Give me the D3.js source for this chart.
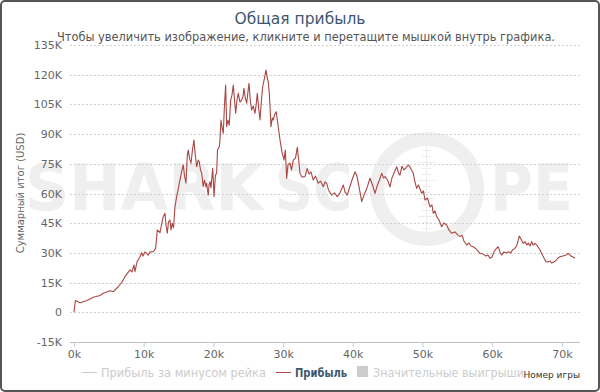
<!DOCTYPE html>
<html><head><meta charset="utf-8">
<script src="https://cdn.jsdelivr.net/npm/d3@7"></script>
<style>body{margin:0;background:#fff}svg{display:block;font-family:"DejaVu Sans",sans-serif}</style>
</head><body>
<svg id="c" width="600" height="392"></svg>
<script>
// Games played (thousands)
const games = [0,0.2,0.86,1.87,2.77,3.73,4.2,5.16,5.64,6.36,6.89,7.32,8.03,8.32,8.61,8.75,9.04,9.47,9.71,9.9,10.19,10.66,10.9,11.38,11.72,11.95,12.34,12.55,12.81,13.06,13.2,13.39,13.56,13.77,13.92,14.1,14.28,14.49,14.73,14.99,15.11,15.45,15.68,15.85,16.07,16.26,16.4,16.57,16.79,17.0,17.22,17.36,17.6,17.83,17.98,18.15,18.32,18.55,18.72,18.94,19.04,19.15,19.27,19.37,19.51,19.66,19.9,19.99,20.09,20.3,20.47,20.59,20.85,20.95,21.09,21.26,21.42,21.56,21.76,21.91,22.09,22.28,22.48,22.67,22.86,23.03,23.2,23.39,23.57,23.82,24.06,24.25,24.39,24.58,24.78,24.96,25.11,25.29,25.49,25.72,25.97,26.15,26.3,26.5,26.69,26.9,27.07,27.33,27.55,27.73,27.88,28.02,28.15,28.26,28.45,28.59,28.77,29.02,29.27,29.56,29.84,30.13,30.32,30.52,30.7,30.99,31.21,31.46,31.78,32.04,32.24,32.42,32.71,33.14,33.47,33.72,34.0,34.33,34.65,35.05,35.37,35.77,36.01,36.26,36.51,36.97,37.37,37.78,38.16,38.64,38.88,39.21,39.53,39.89,40.32,40.6,40.79,41.03,41.28,41.61,42.04,42.47,42.83,43.19,43.54,43.83,44.15,44.4,44.62,44.98,45.34,45.62,45.98,46.3,46.56,46.77,47.06,47.35,47.63,47.96,48.21,48.42,48.68,48.92,49.17,49.43,49.89,50.14,50.36,50.72,51.08,51.36,51.55,51.79,52.04,52.37,52.75,53.08,53.47,53.8,54.19,54.66,55.09,55.38,55.67,55.95,56.34,56.67,56.96,57.29,57.68,57.96,58.25,58.68,59.11,59.4,59.68,59.97,60.26,60.55,60.87,61.12,61.36,61.69,61.98,62.31,62.63,62.91,63.27,63.56,63.89,64.13,64.46,64.71,64.99,65.18,65.42,65.67,65.85,66.14,66.5,66.86,67.14,67.43,67.72,68.0,68.29,68.51,68.77,69.08,69.44,69.73,70.16,70.59,70.92,71.31,71.59,71.88];
// Cumulative profit (thousand USD)
const profit = [0,5.9,4.8,6.0,7.6,8.5,9.6,10.9,10.4,12.9,15.3,18.0,21.4,20.4,23.9,20.5,25.4,28.1,30.1,28.4,30.5,28.9,30.5,30.6,32.3,41.6,40.2,44.1,48.3,50.0,44.1,39.9,45.6,46.6,41.6,44.9,42.6,53.3,58.4,62.8,65.2,71.0,74.4,69.3,65.2,79.4,82.0,77.9,75.3,82.0,87.0,81.0,73.5,76.9,75.9,71.9,70.2,63.4,66.8,63.3,65.2,61.8,59.2,64.3,66.0,62.8,72.7,66.8,58.4,69.3,70.2,82.0,83.6,87.0,97.1,93.1,90.4,102.2,114.8,93.7,97.1,94.6,107.2,109.8,114.8,107.2,100.5,107.2,110.6,106.2,107.2,109.2,113.1,108.2,105.6,111.3,115.7,107.2,102.2,104.2,100.5,105.2,110.6,103.1,97.1,107.2,113.9,118.3,122.4,118.3,116.3,110.6,102.2,93.7,98.1,97.1,99.6,101.3,94.6,87.0,81.0,76.9,82.0,67.7,74.4,75.3,71.9,76.9,77.9,83.3,76.9,70.2,68.3,68.5,72.7,69.8,70.9,66.8,68.8,65.2,66.3,63.4,65.8,65.2,61.8,59.2,60.3,58.4,60.3,64.3,60.8,59.2,62.8,66.8,71.0,68.8,65.2,60.8,55.9,59.2,62.8,67.7,64.3,60.1,64.3,66.8,70.2,67.9,68.5,66.8,63.4,67.9,70.9,73.5,70.3,69.3,73.8,71.9,72.9,74.4,73.4,71.9,70.2,65.8,62.6,64.3,60.1,61.3,56.7,57.7,53.3,54.2,50.0,51.2,48.3,46.6,43.2,45.1,44.1,41.6,39.9,40.6,39.0,38.2,39.0,36.0,34.0,35.0,33.5,33.1,32.0,31.0,29.8,29.4,28.4,28.9,27.3,27.9,30.5,32.0,33.1,30.5,28.9,30.5,29.9,30.6,29.9,31.5,32.3,34.0,38.5,37.0,34.8,35.7,34.0,35.0,33.5,35.7,34.0,34.8,33.5,31.5,29.4,27.4,25.6,25.4,25.9,24.9,25.3,25.9,27.4,28.1,28.4,28.9,29.8,28.4,27.9,27.3];
const yTicks = [-15,0,15,30,45,60,75,90,105,120,135];
const xTicks = [0,10,20,30,40,50,60,70];
const title = "Общая прибыль";
const subtitle = "Чтобы увеличить изображение, кликните и перетащите мышкой внутрь графика.";
const yTitle = "Суммарный итог (USD)";
const xTitle = "Номер игры";
const legendItems = [
  {label:"Прибыль за минусом рейка", type:"line", active:false},
  {label:"Прибыль", type:"line", active:true},
  {label:"Значительные выигрыши", type:"box", active:false}
];

const svg = d3.select("#c");
const L=70, R=580, T=45, B=342;
const x = d3.scaleLinear().domain([-0.57,72.6]).range([L,R]);
const y = d3.scaleLinear().domain([-15,135]).range([B,T]);

// frame
svg.append("rect").attr("x",1).attr("y",1).attr("width",598).attr("height",390)
  .attr("rx",4).attr("fill","#fff").attr("stroke","#555").attr("stroke-width",2);

// watermark
const wmc = "#efefef";
const wm = svg.append("g").attr("fill",wmc);
wm.append("text").attr("x",25).attr("y",210).attr("font-size",64).attr("font-weight","bold")
  .attr("textLength",238).attr("lengthAdjust","spacingAndGlyphs").text("SHARK");
wm.append("text").attr("x",275).attr("y",210).attr("font-size",64).attr("font-weight","bold")
  .attr("textLength",77).attr("lengthAdjust","spacingAndGlyphs").text("SC");
wm.append("text").attr("x",490).attr("y",210).attr("font-size",64).attr("font-weight","bold")
  .attr("textLength",83).attr("lengthAdjust","spacingAndGlyphs").text("PE");
svg.append("circle").attr("cx",427).attr("cy",189).attr("r",50).attr("fill","none")
  .attr("stroke",wmc).attr("stroke-width",14);
const ch = svg.append("g").attr("stroke","#ececec").attr("stroke-width",1);
ch.append("line").attr("x1",426.5).attr("x2",426.5).attr("y1",143).attr("y2",234);
d3.range(150,232,6).forEach(v=>{
  ch.append("line").attr("x1",v%18===0?418:422).attr("x2",v%18===0?435:431).attr("y1",v+0.5).attr("y2",v+0.5);
});

// titles
svg.append("text").attr("x",300).attr("y",24).attr("text-anchor","middle")
  .attr("font-size",15.5).attr("fill","#3E576F").text(title);
svg.append("text").attr("x",306).attr("y",41).attr("text-anchor","middle")
  .attr("font-size",12).attr("fill","#555")
  .attr("textLength",498).attr("lengthAdjust","spacingAndGlyphs").text(subtitle);

// grid
svg.append("g").selectAll("line").data(yTicks.filter(d=>d>-15)).join("line")
  .attr("x1",L).attr("x2",R).attr("y1",d=>Math.round(y(d))+0.5).attr("y2",d=>Math.round(y(d))+0.5)
  .attr("stroke","#d0d0d0").attr("stroke-dasharray","2,2");

// y axis
const yAxis = d3.axisLeft(y).tickValues(yTicks).tickSize(0).tickPadding(8)
  .tickFormat(d=>d===0?"0":d+"K");
const gy = svg.append("g").attr("transform",`translate(${L},0)`).call(yAxis);
gy.select(".domain").remove();
gy.selectAll("text").attr("font-size",11).attr("fill","#666").attr("font-family","DejaVu Sans");

// x axis
const xAxis = d3.axisBottom(x).tickValues(xTicks).tickSize(5).tickPadding(3)
  .tickFormat(d=>d+"k");
const gx = svg.append("g").attr("transform",`translate(0,${B})`).call(xAxis);
gx.select(".domain").attr("stroke","#C0C0C0").attr("d",`M${L},0.5H${R}`);
gx.selectAll(".tick line").attr("stroke","#C0D0E0");
gx.selectAll("text").attr("font-size",11).attr("fill","#666").attr("font-family","DejaVu Sans");

// y title
svg.append("g").attr("transform","translate(24,193)")
  .append("text").attr("transform","rotate(-90)").attr("text-anchor","middle")
  .attr("font-size",10).attr("fill","#666").text(yTitle);

// line
const data = games.map((g,i)=>[g,profit[i]]);
svg.append("path").datum(data).attr("fill","none").attr("stroke","#AA4643")
  .attr("stroke-width",1.1).attr("stroke-linejoin","round")
  .attr("d",d3.line().x(d=>x(d[0])).y(d=>y(d[1])));

// legend
const lg = svg.append("g").attr("font-size",12);
const lx = [82, 276, 357];
const lw = [165, 52, 151];
legendItems.forEach((it,i)=>{
  const g = lg.append("g").attr("transform",`translate(${lx[i]},0)`);
  const col = it.active ? "#AA4643" : "#ccc";
  if(it.type==="line"){
    g.append("line").attr("x1",0).attr("x2",15).attr("y1",372.5).attr("y2",372.5)
      .attr("stroke",col).attr("stroke-width",1);
    g.append("text").attr("x",19).attr("y",377).attr("fill",it.active?"#3E576F":"#ccc")
      .attr("font-weight",it.active?"bold":"normal")
      .attr("textLength",lw[i]).attr("lengthAdjust","spacingAndGlyphs").text(it.label);
  } else {
    g.append("rect").attr("x",0).attr("y",366).attr("width",11).attr("height",11).attr("fill","#ccc");
    g.append("text").attr("x",16).attr("y",377).attr("fill","#ccc")
      .attr("textLength",lw[i]).attr("lengthAdjust","spacingAndGlyphs").text(it.label);
  }
});
svg.append("text").attr("x",580).attr("y",378).attr("text-anchor","end")
  .attr("font-size",9).attr("fill","#333").text(xTitle);
</script>
</body></html>
